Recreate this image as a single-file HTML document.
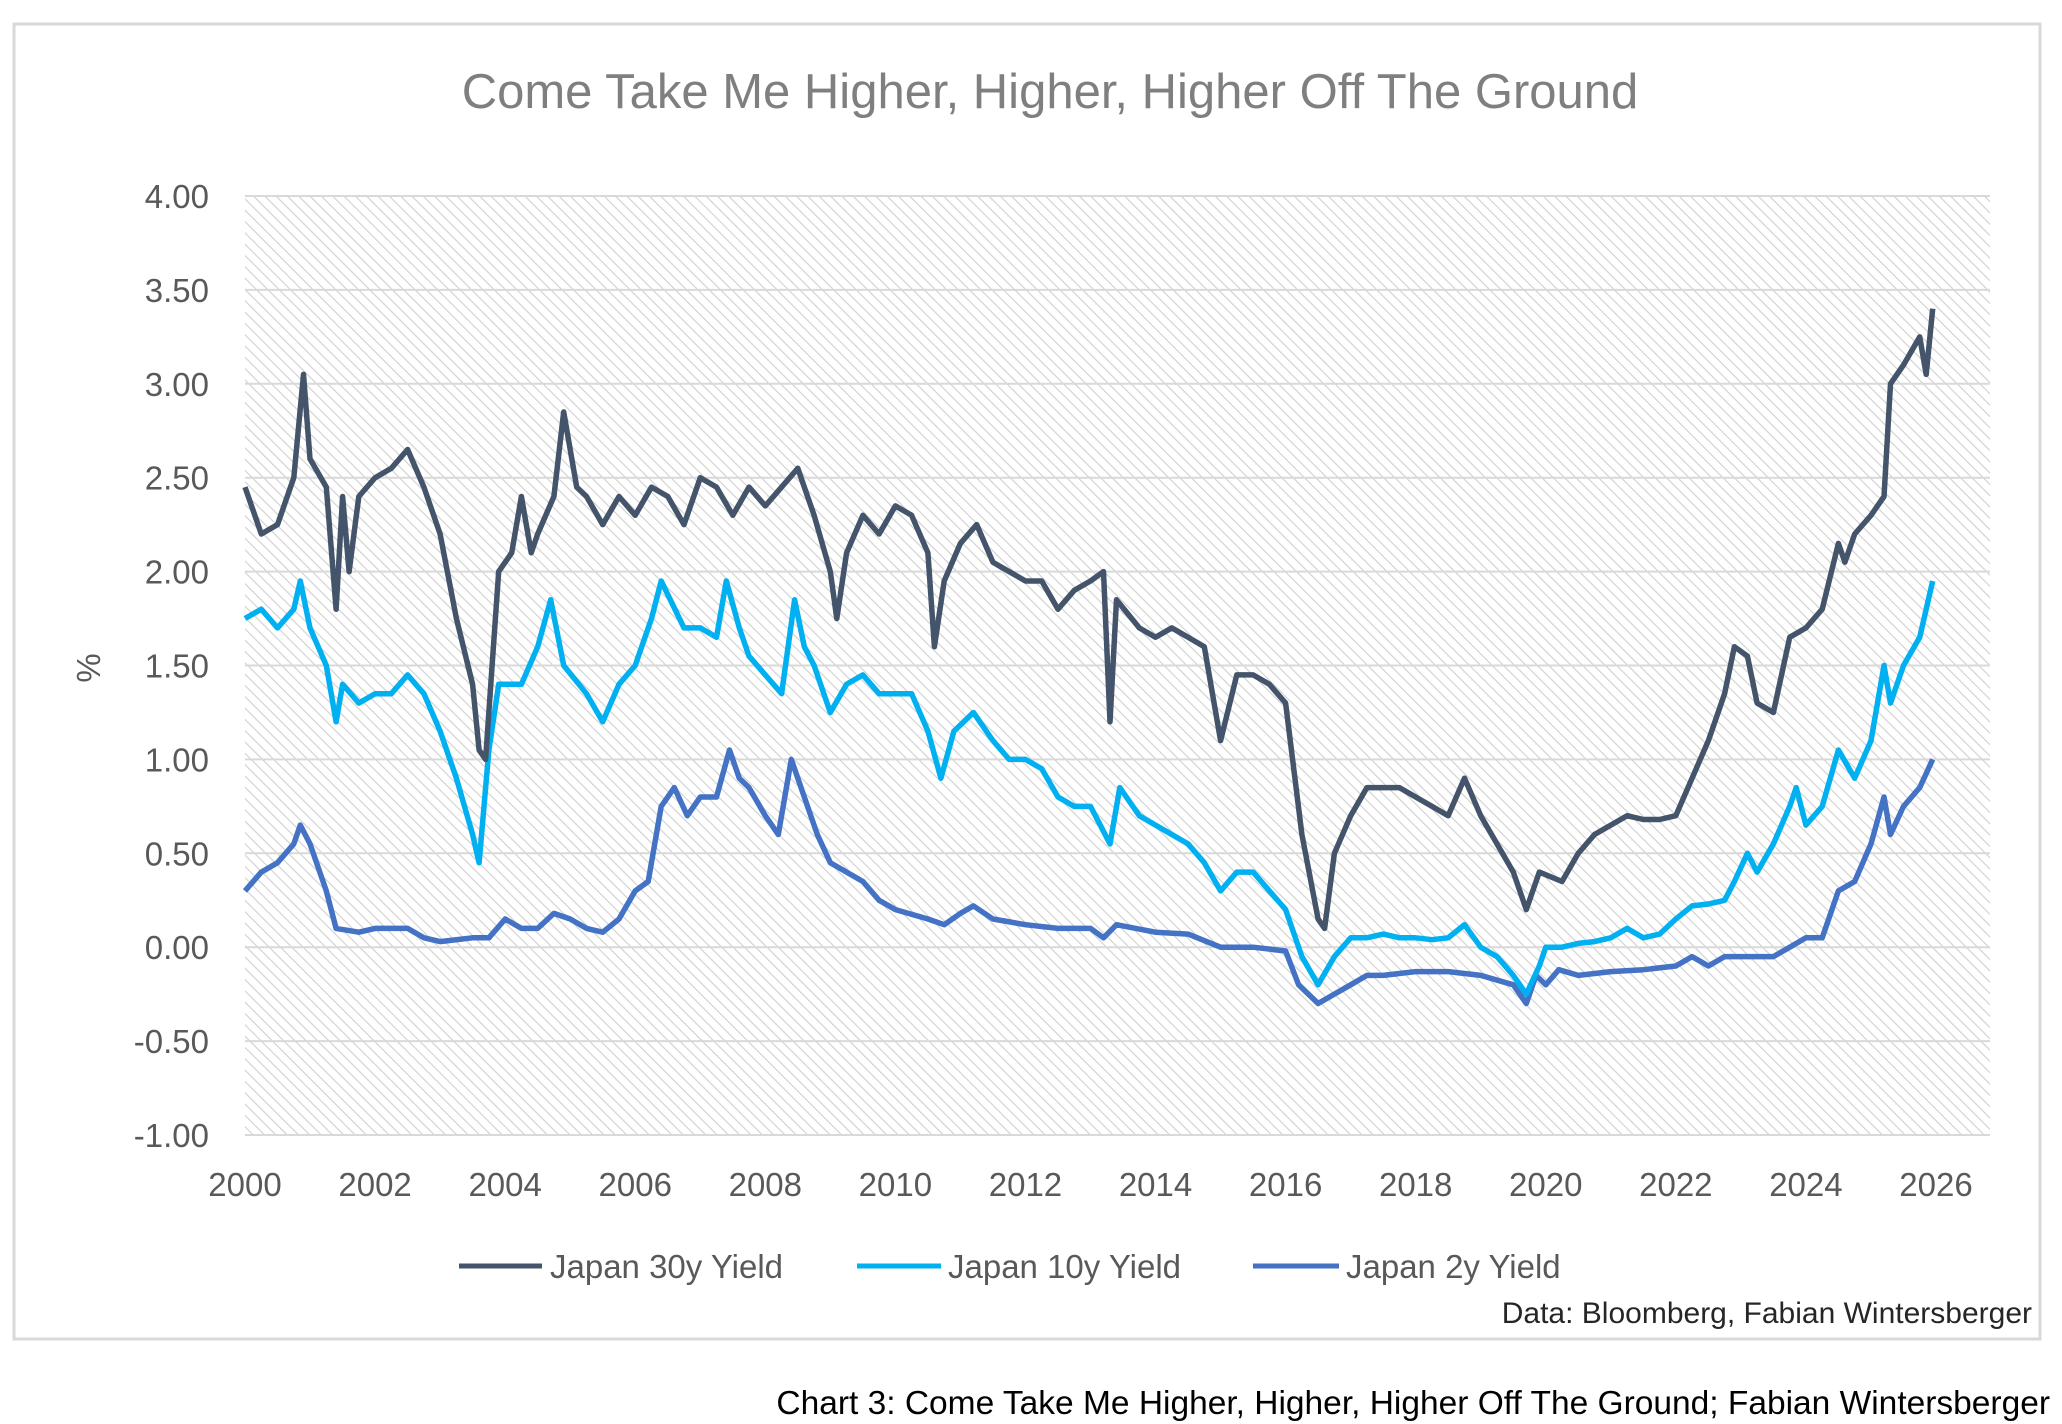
<!DOCTYPE html>
<html><head><meta charset="utf-8"><style>
html,body{margin:0;padding:0;background:#fff;width:2062px;height:1424px;overflow:hidden}
svg{display:block;font-family:"Liberation Sans",sans-serif}
</style></head><body>
<svg id="chart" width="2062" height="1424" viewBox="0 0 2062 1424">
<defs>
<pattern id="hatch" patternUnits="userSpaceOnUse" width="8" height="8" patternTransform="rotate(-45)">
<line x1="0" y1="0" x2="0" y2="8" stroke="#cfcfcf" stroke-width="2.2"/>
</pattern>
</defs>
<rect x="14" y="24" width="2026" height="1315" fill="#fff" stroke="#d9d9d9" stroke-width="3"/>
<text x="1050" y="108" text-anchor="middle" font-size="49" fill="#7f7f7f">Come Take Me Higher, Higher, Higher Off The Ground</text>
<rect x="245" y="196" width="1745" height="939" fill="url(#hatch)"/>
<g id="grid"></g>
<g id="yticks" font-size="33" fill="#595959" text-anchor="end"></g>
<g id="xticks" font-size="33" fill="#595959" text-anchor="middle"></g>
<text x="0" y="0" font-size="33" fill="#595959" text-anchor="middle" transform="translate(100,668) rotate(-90)">%</text>
<g id="series"></g>
<g font-size="33" fill="#595959">
<g><line x1="459" y1="1266" x2="542" y2="1266" stroke="#44546a" stroke-width="5"/><text x="550" y="1278">Japan 30y Yield</text></g>
<g><line x1="857" y1="1266" x2="941" y2="1266" stroke="#00b0f0" stroke-width="5"/><text x="948" y="1278">Japan 10y Yield</text></g>
<g><line x1="1253" y1="1266" x2="1339" y2="1266" stroke="#4472c4" stroke-width="5"/><text x="1346" y="1278">Japan 2y Yield</text></g>
</g>
<text x="2032" y="1323" text-anchor="end" font-size="30" fill="#262626">Data: Bloomberg, Fabian Wintersberger</text>
<text x="2050" y="1414" text-anchor="end" font-size="33.5" fill="#000">Chart 3: Come Take Me Higher, Higher, Higher Off The Ground; Fabian Wintersberger</text>
</svg>
<script>
const yTicks=[4,3.5,3,2.5,2,1.5,1,0.5,0,-0.5,-1];
const xTicks=[2000,2002,2004,2006,2008,2010,2012,2014,2016,2018,2020,2022,2024,2026];
const t30=[2000,2000.25,2000.5,2000.75,2000.9,2001,2001.25,2001.4,2001.5,2001.6,2001.75,2002,2002.25,2002.5,2002.75,2003,2003.25,2003.5,2003.6,2003.7,2003.8,2003.9,2004.1,2004.25,2004.4,2004.5,2004.75,2004.9,2005.1,2005.25,2005.5,2005.75,2006,2006.25,2006.5,2006.75,2007,2007.25,2007.5,2007.75,2008,2008.25,2008.5,2008.75,2009,2009.1,2009.25,2009.5,2009.75,2010,2010.25,2010.5,2010.6,2010.75,2011,2011.25,2011.5,2011.75,2012,2012.25,2012.5,2012.75,2013,2013.2,2013.3,2013.4,2013.75,2014,2014.25,2014.5,2014.75,2015,2015.25,2015.5,2015.75,2016,2016.25,2016.5,2016.6,2016.75,2017,2017.25,2017.5,2017.75,2018,2018.25,2018.5,2018.75,2019,2019.25,2019.5,2019.7,2019.9,2020.25,2020.5,2020.75,2021,2021.25,2021.5,2021.75,2022,2022.25,2022.5,2022.75,2022.9,2023.1,2023.25,2023.5,2023.75,2024,2024.25,2024.5,2024.6,2024.75,2025,2025.2,2025.3,2025.5,2025.75,2025.85,2025.95];
const y30=[2.45,2.2,2.25,2.5,3.05,2.6,2.45,1.8,2.4,2.0,2.4,2.5,2.55,2.65,2.45,2.2,1.75,1.4,1.05,1.0,1.5,2.0,2.1,2.4,2.1,2.2,2.4,2.85,2.45,2.4,2.25,2.4,2.3,2.45,2.4,2.25,2.5,2.45,2.3,2.45,2.35,2.45,2.55,2.3,2.0,1.75,2.1,2.3,2.2,2.35,2.3,2.1,1.6,1.95,2.15,2.25,2.05,2.0,1.95,1.95,1.8,1.9,1.95,2.0,1.2,1.85,1.7,1.65,1.7,1.65,1.6,1.1,1.45,1.45,1.4,1.3,0.6,0.15,0.1,0.5,0.7,0.85,0.85,0.85,0.8,0.75,0.7,0.9,0.7,0.55,0.4,0.2,0.4,0.35,0.5,0.6,0.65,0.7,0.68,0.68,0.7,0.9,1.1,1.35,1.6,1.55,1.3,1.25,1.65,1.7,1.8,2.15,2.05,2.2,2.3,2.4,3.0,3.1,3.25,3.05,3.4];
const t10=[2000,2000.25,2000.5,2000.75,2000.85,2001,2001.25,2001.4,2001.5,2001.75,2002,2002.25,2002.5,2002.75,2003,2003.25,2003.5,2003.6,2003.75,2003.9,2004.25,2004.5,2004.7,2004.9,2005.25,2005.5,2005.75,2006,2006.25,2006.4,2006.75,2007,2007.25,2007.4,2007.6,2007.75,2008,2008.25,2008.45,2008.6,2008.75,2009,2009.25,2009.5,2009.75,2010,2010.25,2010.5,2010.7,2010.9,2011.2,2011.5,2011.75,2012,2012.25,2012.5,2012.75,2013,2013.3,2013.45,2013.75,2014,2014.25,2014.5,2014.75,2015,2015.25,2015.5,2015.75,2016,2016.25,2016.5,2016.75,2017,2017.25,2017.5,2017.75,2018,2018.25,2018.5,2018.75,2019,2019.25,2019.5,2019.7,2019.9,2020,2020.25,2020.5,2020.75,2021,2021.25,2021.5,2021.75,2022,2022.25,2022.5,2022.75,2022.9,2023.1,2023.25,2023.5,2023.75,2023.85,2024,2024.25,2024.5,2024.75,2025,2025.2,2025.3,2025.5,2025.75,2025.95];
const y10=[1.75,1.8,1.7,1.8,1.95,1.7,1.5,1.2,1.4,1.3,1.35,1.35,1.45,1.35,1.15,0.9,0.6,0.45,1.05,1.4,1.4,1.6,1.85,1.5,1.35,1.2,1.4,1.5,1.75,1.95,1.7,1.7,1.65,1.95,1.7,1.55,1.45,1.35,1.85,1.6,1.5,1.25,1.4,1.45,1.35,1.35,1.35,1.15,0.9,1.15,1.25,1.1,1.0,1.0,0.95,0.8,0.75,0.75,0.55,0.85,0.7,0.65,0.6,0.55,0.45,0.3,0.4,0.4,0.3,0.2,-0.05,-0.2,-0.05,0.05,0.05,0.07,0.05,0.05,0.04,0.05,0.12,0.0,-0.05,-0.15,-0.25,-0.1,0.0,0.0,0.02,0.03,0.05,0.1,0.05,0.07,0.15,0.22,0.23,0.25,0.35,0.5,0.4,0.55,0.75,0.85,0.65,0.75,1.05,0.9,1.1,1.5,1.3,1.5,1.65,1.95];
const t2=[2000,2000.25,2000.5,2000.75,2000.85,2001,2001.25,2001.4,2001.75,2002,2002.5,2002.75,2003,2003.5,2003.75,2004,2004.25,2004.5,2004.75,2005,2005.25,2005.5,2005.75,2006,2006.2,2006.4,2006.6,2006.8,2007,2007.25,2007.45,2007.6,2007.75,2008,2008.2,2008.4,2008.6,2008.8,2009,2009.25,2009.5,2009.75,2010,2010.5,2010.75,2011,2011.2,2011.5,2012,2012.5,2013,2013.2,2013.4,2014,2014.5,2015,2015.5,2016,2016.2,2016.5,2016.75,2017,2017.25,2017.5,2018,2018.5,2019,2019.5,2019.7,2019.85,2020,2020.2,2020.5,2021,2021.5,2022,2022.25,2022.5,2022.75,2023,2023.25,2023.5,2023.75,2024,2024.25,2024.5,2024.75,2025,2025.2,2025.3,2025.5,2025.75,2025.95];
const y2=[0.3,0.4,0.45,0.55,0.65,0.55,0.3,0.1,0.08,0.1,0.1,0.05,0.03,0.05,0.05,0.15,0.1,0.1,0.18,0.15,0.1,0.08,0.15,0.3,0.35,0.75,0.85,0.7,0.8,0.8,1.05,0.9,0.85,0.7,0.6,1.0,0.8,0.6,0.45,0.4,0.35,0.25,0.2,0.15,0.12,0.18,0.22,0.15,0.12,0.1,0.1,0.05,0.12,0.08,0.07,0.0,0.0,-0.02,-0.2,-0.3,-0.25,-0.2,-0.15,-0.15,-0.13,-0.13,-0.15,-0.2,-0.3,-0.15,-0.2,-0.12,-0.15,-0.13,-0.12,-0.1,-0.05,-0.1,-0.05,-0.05,-0.05,-0.05,0.0,0.05,0.05,0.3,0.35,0.55,0.8,0.6,0.75,0.85,1.0];

const NS='http://www.w3.org/2000/svg';
const X0=245,XPER=(1936-245)/26,Y0=196,YB=1135;
function xs(t){return X0+(t-2000)*XPER;}
function ys(v){return Y0+(4-v)/5*(YB-Y0);}
const grid=document.getElementById('grid'),yt=document.getElementById('yticks'),xt=document.getElementById('xticks');
yTicks.forEach(v=>{
  const l=document.createElementNS(NS,'line');
  l.setAttribute('x1',245);l.setAttribute('x2',1990);
  l.setAttribute('y1',ys(v));l.setAttribute('y2',ys(v));
  l.setAttribute('stroke','#d9d9d9');l.setAttribute('stroke-width','2');
  
  
  grid.appendChild(l);
  const t=document.createElementNS(NS,'text');
  t.setAttribute('x',209);t.setAttribute('y',ys(v)+12);
  t.textContent=v.toFixed(2);
  
  
  yt.appendChild(t);
});
xTicks.forEach(v=>{
  const t=document.createElementNS(NS,'text');
  t.setAttribute('x',xs(v));t.setAttribute('y',1196);
  t.textContent=v;
  
  
  xt.appendChild(t);
});
const sg=document.getElementById('series');
function draw(ts,vs,color,name){
  const p=document.createElementNS(NS,'polyline');
  p.setAttribute('points',ts.map((t,i)=>xs(t).toFixed(1)+','+ys(vs[i]).toFixed(1)).join(' '));
  p.setAttribute('fill','none');p.setAttribute('stroke',color);
  p.setAttribute('stroke-width','5.5');p.setAttribute('stroke-linejoin','round');
  
  
  sg.appendChild(p);
}
draw(t2,y2,'#4472c4','line-japan-2y');
draw(t10,y10,'#00b0f0','line-japan-10y');
draw(t30,y30,'#44546a','line-japan-30y');
</script>
</body></html>
